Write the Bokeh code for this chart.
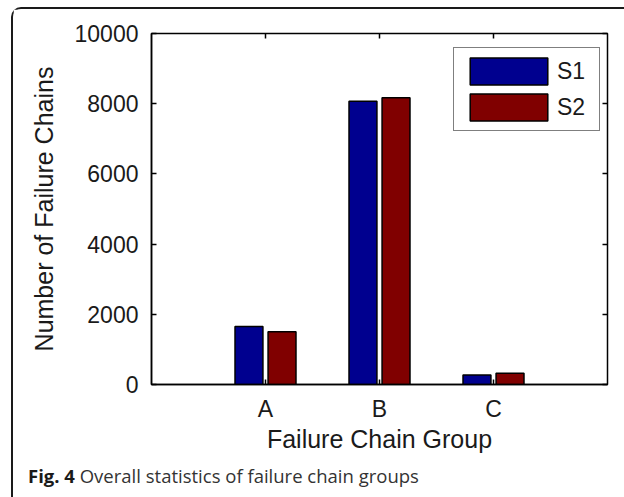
from bokeh.plotting import figure
from bokeh.models import (Range1d, FixedTicker, LinearAxis, Legend, LegendItem,
                          CustomJSTickFormatter, Div)
from bokeh.layouts import column
from bokeh.embed import file_html
from bokeh.resources import INLINE

# ---- data ----
categories = ["A", "B", "C"]
s1_values = [1650, 8070, 270]
s2_values = [1500, 8170, 320]
y_ticks = [0, 2000, 4000, 6000, 8000, 10000]
series_names = ["S1", "S2"]
series_colors = ["#00008f", "#800000"]
caption_bold = "Fig. 4"
caption_text = "Overall statistics of failure chain groups"

x_pos = [i + 1 for i in range(len(categories))]
offset = 0.145
bar_w = 0.245

FONT = "Liberation Sans"
TXT = "#1a1a1a"

p = figure(width=611, height=449, output_backend="svg", toolbar_location=None,
           x_range=Range1d(0, 4), y_range=Range1d(0, 10000),
           min_border_left=138, min_border_right=17, min_border_top=24,
           min_border_bottom=74, background_fill_color="white",
           border_fill_color="white", outline_line_color="black",
           outline_line_width=1.5)
p.grid.visible = False

r1 = p.vbar(x=[x - offset for x in x_pos], top=s1_values, width=bar_w,
            fill_color=series_colors[0], line_color="black", line_width=1.5)
r2 = p.vbar(x=[x + offset for x in x_pos], top=s2_values, width=bar_w,
            fill_color=series_colors[1], line_color="black", line_width=1.5)

xa = p.xaxis[0]
xa.ticker = FixedTicker(ticks=x_pos)
xa.major_label_overrides = {x: c for x, c in zip(x_pos, categories)}
ya = p.yaxis[0]
ya.ticker = FixedTicker(ticks=y_ticks)
for ax in (xa, ya):
    ax.major_tick_in = 5
    ax.major_tick_out = 0
    ax.minor_tick_in = 0
    ax.minor_tick_out = 0
    ax.axis_line_color = "black"
    ax.axis_line_width = 1.5
    ax.major_tick_line_color = "black"
    ax.major_tick_line_width = 1.5
    ax.major_label_text_font = FONT
    ax.major_label_text_font_size = "23px"
    ax.major_label_text_color = TXT
    ax.axis_label_text_font = FONT
    ax.axis_label_text_font_size = "25px"
    ax.axis_label_text_font_style = "normal"
    ax.axis_label_text_color = TXT
xa.axis_label = "Failure Chain Group"
ya.axis_label = "Number of Failure Chains"
xa.major_label_standoff = 11
ya.major_label_standoff = 13
xa.axis_label_standoff = 0
ya.axis_label_standoff = 14

blank = CustomJSTickFormatter(code="return ''")
top_ax = LinearAxis(ticker=FixedTicker(ticks=x_pos), formatter=blank,
                    major_tick_in=5, major_tick_out=0, minor_tick_in=0,
                    minor_tick_out=0, major_label_standoff=0,
                    axis_line_color=None, major_tick_line_color="black",
                    major_tick_line_width=1.5)
right_ax = LinearAxis(ticker=FixedTicker(ticks=y_ticks), formatter=blank,
                      major_tick_in=5, major_tick_out=0, minor_tick_in=0,
                      minor_tick_out=0, major_label_standoff=0,
                      axis_line_color=None, major_tick_line_color="black",
                      major_tick_line_width=1.5)
p.add_layout(top_ax, "above")
p.add_layout(right_ax, "right")

legend = Legend(items=[LegendItem(label=series_names[0], renderers=[r1]),
                       LegendItem(label=series_names[1], renderers=[r2])],
                location=(302, 253), orientation="vertical",
                padding=6, spacing=2, glyph_width=97, glyph_height=34,
                label_standoff=-3, label_width=36, margin=0,
                label_text_font=FONT, label_text_font_size="23px",
                label_text_color=TXT, border_line_color="black",
                border_line_width=1.5, background_fill_color="white",
                background_fill_alpha=1.0)
p.add_layout(legend, "center")

cap = Div(text=("<div style=\"font-family:'Open Sans';font-size:18.5px;"
                "color:#333333;padding-left:10px;white-space:nowrap;\">"
                "<b style=\"color:#1a1a1a\">" + caption_bold + "</b> "
                + caption_text + "</div>"),
          width=611, height=30)

layout = column(p, cap, spacing=0,
                styles={"margin-left": "11px", "margin-top": "7px",
                        "border-left": "2px solid #1a1a1a",
                        "border-top": "2px solid #1a1a1a",
                        "border-top-left-radius": "10px",
                        "background-color": "white"})

open("out.html", "w").write(file_html(layout, INLINE))
